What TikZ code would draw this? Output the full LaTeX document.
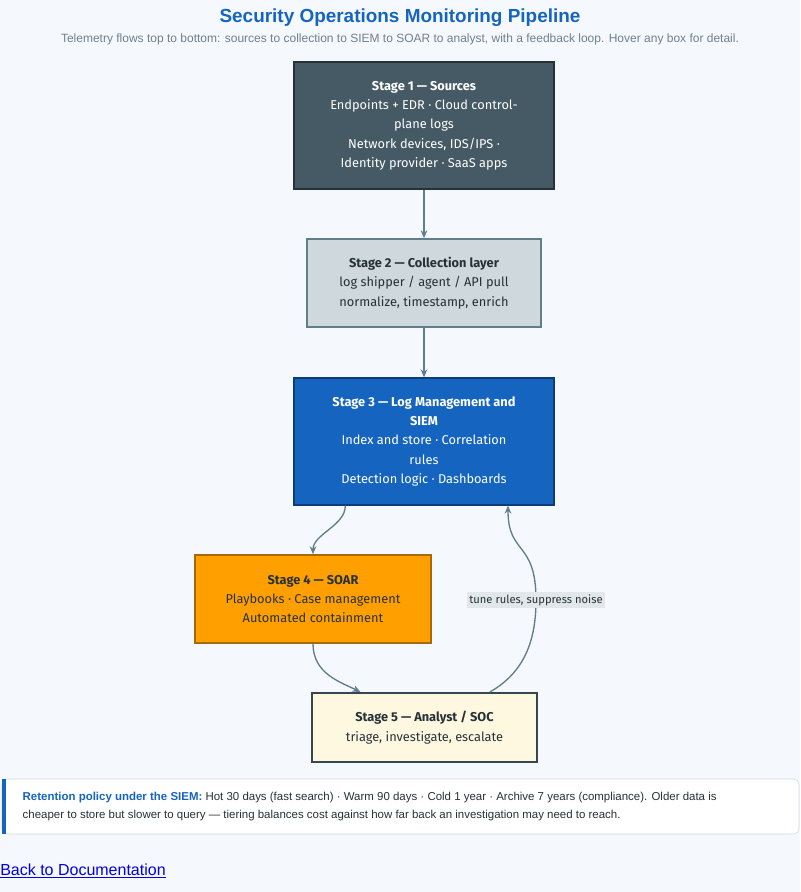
\documentclass[tikz,border=0pt]{standalone}
\usepackage{fontspec}
\setmainfont{Liberation Sans}
\newfontfamily\boxfont{Fira Sans}
\usetikzlibrary{arrows.meta}
\definecolor{pagebg}{HTML}{F5F8FC}
\definecolor{slate}{HTML}{455A64}
\definecolor{slateline}{HTML}{263238}
\definecolor{mist}{HTML}{CFD8DC}
\definecolor{siemblue}{HTML}{1565C0}
\definecolor{siemline}{HTML}{0D3C78}
\definecolor{soar}{HTML}{FFA000}
\definecolor{soarline}{HTML}{A66A00}
\definecolor{cream}{HTML}{FFF8E1}
\definecolor{ink}{HTML}{37474F}
\definecolor{wire}{HTML}{607D8B}
\definecolor{subgray}{HTML}{708090}
\tikzset{
  stage/.style={draw=ink, line width=1.2pt, align=center, font=\boxfont\fontsize{9.6}{14.5}\selectfont, inner sep=0pt},
  flow/.style={draw=wire, line width=1pt, -{Stealth[length=6pt,width=5pt]}},
}
\begin{document}
\begin{tikzpicture}[x=0.75pt, y=-0.75pt]
\fill[pagebg] (0,0) rectangle (800,892);
\useasboundingbox (0,0) rectangle (800,892);
% title
\node (title) at (400,18) {\fontsize{14.2}{16}\selectfont\bfseries\color{siemblue}Security Operations Monitoring Pipeline};
\node (subtitle) at (400,39) {\fontsize{9}{10}\selectfont\color{subgray}Telemetry flows top to bottom: sources to collection to SIEM to SOAR to analyst, with a feedback loop. Hover any box for detail.};
% stages
\node[stage, fill=slate, draw=slateline, text=white, minimum width=195pt, minimum height=95pt] (s1) at (424,125.5)
  {\textbf{Stage 1 — Sources}\\Endpoints + EDR · Cloud control-\\plane logs\\Network devices, IDS/IPS ·\\Identity provider · SaaS apps};
\node[stage, fill=mist, draw=wire, text=slateline, minimum width=175.5pt, minimum height=66pt] (s2) at (424,283)
  {\textbf{Stage 2 — Collection layer}\\log shipper / agent / API pull\\normalize, timestamp, enrich};
\node[stage, fill=siemblue, draw=siemline, text=white, minimum width=195pt, minimum height=95pt] (s3) at (424,441.5)
  {\textbf{Stage 3 — Log Management and}\\\textbf{SIEM}\\Index and store · Correlation\\rules\\Detection logic · Dashboards};
\node[stage, fill=soar, draw=soarline, text=slateline, minimum width=177pt, minimum height=66pt] (s4) at (313,599)
  {\textbf{Stage 4 — SOAR}\\Playbooks · Case management\\Automated containment};
\node[stage, fill=cream, draw=ink, text=slateline, minimum width=168.75pt, minimum height=52pt] (s5) at (424.5,727.5)
  {\textbf{Stage 5 — Analyst / SOC}\\triage, investigate, escalate};
\coordinate (bend) at (536,600);
% connectors
\draw[flow] (s1) -- (s2);
\draw[flow] (s2) -- (s3);
\draw[flow] ([xshift=-59pt]s3.south) .. controls +(0,20) and +(0,-20) .. (s4.north);
\draw[flow] (s4.south) .. controls +(0,30) and +(-20,-10) .. ([xshift=-48pt]s5.north);
\draw[flow] ([xshift=49pt]s5.north) .. controls +(35,-20) and +(0,40) .. (bend)
  .. controls +(0,-60) and +(0,50) .. ([xshift=63pt]s3.south);
\node[fill=mist!60, inner sep=1.5pt, font=\boxfont\fontsize{8.4}{10}\selectfont, text=slateline] (tune) at (bend) {tune rules, suppress noise};
% retention note
\fill[white, draw=mist, rounded corners=4pt] (2,779) rectangle (799,834);
\fill[siemblue] (2,779) rectangle (6,834);
\node[anchor=west, align=left, font=\fontsize{8.6}{13.5}\selectfont, text=slateline] (note) at (18,806.5)
  {{\bfseries\color{siemblue}Retention policy under the SIEM:} Hot 30 days (fast search) · Warm 90 days · Cold 1 year · Archive 7 years (compliance). Older data is\\cheaper to store but slower to query — tiering balances cost against how far back an investigation may need to reach.};
\node[anchor=west, inner sep=0pt, font=\fontsize{12}{14}\selectfont, text=blue!90!black] (back) at (0,871) {\underline{Back to Documentation}};
\end{tikzpicture}
\end{document}
